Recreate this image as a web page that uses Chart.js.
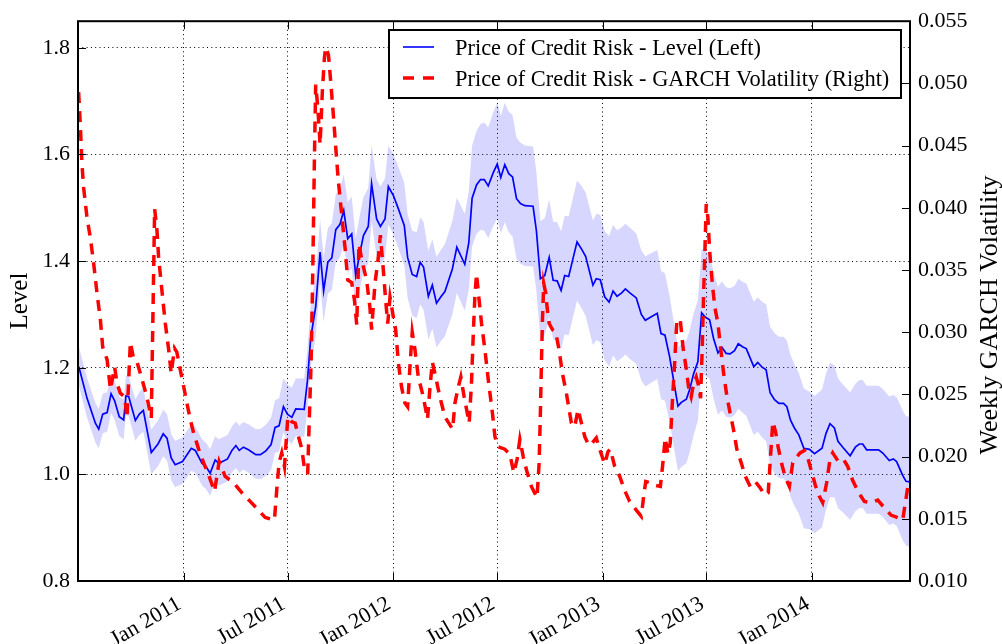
<!DOCTYPE html>
<html>
<head>
<meta charset="utf-8">
<title>Price of Credit Risk</title>
<script src="https://cdn.jsdelivr.net/npm/chart.js@4.4.0/dist/chart.umd.min.js"></script>
<style>
  html, body { margin: 0; padding: 0; background: #fff; }
  #wrap { width: 1002px; height: 644px; }
</style>
</head>
<body>
<div id="wrap"><canvas id="chart" width="1002" height="644"></canvas></div>
<script>
// x positions are fractional years (2011.5 ~ Jul 2011)
const dateTicks = [2011, 2011.496, 2012, 2012.497, 2013, 2013.496, 2014];
const dateLabels = ['Jan 2011', 'Jul 2011', 'Jan 2012', 'Jul 2012', 'Jan 2013', 'Jul 2013', 'Jan 2014'];
const levelTicks = [0.8, 1.0, 1.2, 1.4, 1.6, 1.8];
const volTicks = [0.010, 0.015, 0.020, 0.025, 0.030, 0.035, 0.040, 0.045, 0.050, 0.055];

const levelLabel = 'Price of Credit Risk - Level (Left)';
const volLabel = 'Price of Credit Risk - GARCH Volatility (Right)';

// weekly level of the price of credit risk (left axis)
const levelX = [
  2010.499,2010.538,2010.578,2010.594,2010.613,2010.634,2010.653,2010.670,2010.692,2010.713,
  2010.724,2010.737,2010.769,2010.788,2010.807,2010.845,2010.877,2010.902,2010.920,2010.940,
  2010.959,2010.994,2011.036,2011.055,2011.087,2011.107,2011.126,2011.150,2011.166,2011.190,
  2011.209,2011.230,2011.249,2011.265,2011.285,2011.309,2011.325,2011.344,2011.366,2011.392,
  2011.417,2011.436,2011.455,2011.476,2011.495,2011.516,2011.535,2011.575,2011.591,2011.606,
  2011.630,2011.651,2011.668,2011.688,2011.707,2011.726,2011.746,2011.764,2011.783,2011.802,
  2011.821,2011.842,2011.858,2011.881,2011.897,2011.921,2011.939,2011.961,2011.977,2012.001,
  2012.025,2012.053,2012.069,2012.091,2012.112,2012.129,2012.145,2012.168,2012.187,2012.207,
  2012.228,2012.247,2012.282,2012.304,2012.342,2012.361,2012.377,2012.398,2012.417,2012.435,
  2012.454,2012.478,2012.497,2012.514,2012.533,2012.552,2012.570,2012.589,2012.608,2012.629,
  2012.668,2012.684,2012.703,2012.724,2012.745,2012.764,2012.783,2012.802,2012.819,2012.838,
  2012.878,2012.899,2012.919,2012.954,2012.970,2012.989,2013.010,2013.031,2013.050,2013.069,
  2013.090,2013.109,2013.129,2013.161,2013.185,2013.204,2013.261,2013.279,2013.298,2013.320,
  2013.360,2013.376,2013.400,2013.415,2013.435,2013.455,2013.473,2013.490,2013.511,2013.530,
  2013.551,2013.570,2013.590,2013.609,2013.630,2013.648,2013.670,2013.686,2013.722,2013.741,
  2013.762,2013.781,2013.800,2013.821,2013.842,2013.864,2013.880,2013.897,2013.916,2013.937,
  2013.961,2013.988,2014.012,2014.048,2014.067,2014.086,2014.107,2014.124,2014.147,2014.182,
  2014.207,2014.226,2014.242,2014.261,2014.318,2014.338,2014.369,2014.388,2014.404,2014.433,
  2014.449,2014.468
];
const levelY = [
  1.202,1.143,1.096,1.085,1.113,1.116,1.151,1.138,1.108,1.102,
  1.147,1.146,1.101,1.113,1.120,1.041,1.057,1.076,1.068,1.031,
  1.018,1.024,1.049,1.045,1.021,1.014,1.002,1.027,1.021,1.025,
  1.029,1.045,1.054,1.045,1.051,1.046,1.042,1.037,1.037,1.044,
  1.056,1.088,1.091,1.127,1.113,1.107,1.123,1.122,1.177,1.255,
  1.314,1.417,1.344,1.398,1.406,1.459,1.469,1.495,1.442,1.451,
  1.373,1.417,1.448,1.465,1.545,1.479,1.465,1.479,1.540,1.523,
  1.498,1.467,1.407,1.375,1.371,1.398,1.389,1.334,1.355,1.321,
  1.333,1.343,1.384,1.426,1.394,1.434,1.518,1.543,1.553,1.553,
  1.541,1.566,1.582,1.557,1.581,1.564,1.558,1.517,1.508,1.504,
  1.503,1.457,1.367,1.373,1.407,1.364,1.363,1.345,1.373,1.371,
  1.436,1.423,1.409,1.355,1.367,1.365,1.333,1.323,1.344,1.334,
  1.340,1.348,1.341,1.331,1.300,1.289,1.302,1.264,1.261,1.221,
  1.128,1.135,1.141,1.158,1.189,1.211,1.303,1.295,1.290,1.255,
  1.228,1.238,1.227,1.226,1.232,1.245,1.239,1.236,1.202,1.210,
  1.201,1.196,1.153,1.140,1.133,1.133,1.127,1.102,1.087,1.074,
  1.049,1.047,1.039,1.049,1.077,1.095,1.087,1.062,1.051,1.035,
  1.051,1.057,1.057,1.046,1.046,1.040,1.026,1.029,1.024,0.998,
  0.987,0.986
];
// width of the shaded band above / below the level line
const bandUp = [
  .038,.038,.038,.038,.038,.038,.038,.038,.038,.038,
  .038,.039,.040,.041,.042,.043,.044,.045,.045,.045,
  .045,.045,.045,.045,.045,.045,.045,.045,.045,.045,
  .045,.045,.045,.046,.047,.048,.048,.048,.048,.049,
  .050,.051,.052,.054,.055,.056,.057,.058,.059,.060,
  .061,.062,.063,.064,.065,.066,.067,.068,.069,.070,
  .071,.072,.072,.072,.073,.074,.075,.076,.077,.078,
  .079,.080,.081,.082,.083,.084,.085,.085,.086,.087,
  .088,.089,.091,.093,.095,.097,.099,.101,.104,.107,
  .110,.113,.115,.115,.116,.116,.116,.115,.114,.113,
  .112,.110,.108,.108,.109,.110,.110,.111,.112,.113,
  .115,.118,.120,.121,.122,.122,.123,.124,.124,.124,
  .123,.122,.122,.121,.120,.120,.119,.118,.116,.114,
  .110,.110,.110,.111,.113,.116,.120,.123,.124,.124,
  .124,.124,.124,.123,.122,.122,.122,.122,.122,.122,
  .123,.123,.124,.125,.125,.125,.124,.122,.120,.116,
  .112,.108,.108,.110,.112,.115,.117,.118,.118,.119,
  .119,.120,.120,.120,.120,.120,.120,.120,.121,.122,
  .122,.122
];
const bandDn = [
  .036,.036,.036,.036,.036,.036,.036,.036,.036,.036,
  .036,.037,.038,.039,.040,.041,.042,.042,.042,.042,
  .042,.042,.042,.042,.042,.042,.042,.042,.042,.042,
  .042,.042,.042,.042,.042,.043,.044,.045,.046,.047,
  .048,.048,.048,.048,.049,.050,.051,.052,.054,.055,
  .056,.057,.058,.059,.060,.061,.062,.063,.064,.065,
  .066,.067,.068,.069,.070,.071,.072,.072,.072,.073,
  .074,.075,.076,.077,.078,.079,.080,.081,.082,.083,
  .083,.084,.085,.086,.087,.088,.090,.092,.094,.096,
  .098,.100,.102,.105,.108,.110,.112,.113,.113,.113,
  .113,.113,.113,.112,.112,.111,.110,.110,.110,.110,
  .110,.111,.112,.113,.115,.117,.119,.120,.121,.122,
  .122,.123,.124,.124,.124,.124,.123,.123,.123,.122,
  .122,.121,.120,.118,.115,.110,.110,.110,.111,.113,
  .116,.118,.119,.120,.121,.122,.124,.126,.128,.130,
  .132,.134,.136,.138,.140,.141,.142,.144,.146,.148,
  .150,.150,.150,.148,.144,.138,.130,.125,.122,.120,
  .120,.120,.120,.120,.120,.120,.121,.121,.121,.121,
  .121,.122
];

// weekly GARCH volatility (right axis)
const volX = [
  2010.498,2010.506,2010.514,2010.522,2010.538,2010.554,2010.570,2010.586,2010.602,2010.613,
  2010.634,2010.650,2010.670,2010.681,2010.697,2010.718,2010.729,2010.745,2010.761,2010.777,
  2010.801,2010.824,2010.845,2010.861,2010.872,2010.880,2010.899,2010.912,2010.928,2010.940,
  2010.956,2010.967,2010.983,2011.000,2011.015,2011.031,2011.047,2011.071,2011.095,2011.115,
  2011.147,2011.169,2011.198,2011.238,2011.277,2011.317,2011.357,2011.389,2011.433,2011.444,
  2011.455,2011.468,2011.481,2011.497,2011.516,2011.532,2011.548,2011.564,2011.579,2011.592,
  2011.598,2011.608,2011.614,2011.619,2011.624,2011.630,2011.640,2011.651,2011.662,2011.672,
  2011.678,2011.691,2011.703,2011.715,2011.726,2011.738,2011.754,2011.770,2011.783,2011.802,
  2011.815,2011.826,2011.837,2011.850,2011.873,2011.889,2011.897,2011.913,2011.929,2011.939,
  2011.953,2011.964,2011.974,2011.985,2012.001,2012.012,2012.025,2012.040,2012.056,2012.069,
  2012.080,2012.091,2012.104,2012.120,2012.144,2012.164,2012.176,2012.187,2012.203,2012.223,
  2012.247,2012.284,2012.295,2012.311,2012.323,2012.339,2012.363,2012.374,2012.382,2012.390,
  2012.398,2012.409,2012.422,2012.438,2012.454,2012.474,2012.486,2012.501,2012.533,2012.557,
  2012.576,2012.592,2012.605,2012.621,2012.637,2012.660,2012.687,2012.697,2012.703,2012.708,
  2012.713,2012.719,2012.729,2012.735,2012.745,2012.761,2012.776,2012.792,2012.808,2012.827,
  2012.851,2012.867,2012.883,2012.899,2012.915,2012.934,2012.951,2012.970,2012.986,2013.010,
  2013.026,2013.037,2013.058,2013.082,2013.105,2013.129,2013.161,2013.185,2013.196,2013.206,
  2013.225,2013.249,2013.276,2013.288,2013.299,2013.312,2013.323,2013.333,2013.344,2013.355,
  2013.371,2013.384,2013.400,2013.412,2013.423,2013.435,2013.447,2013.457,2013.468,2013.476,
  2013.482,2013.489,2013.495,2013.503,2013.511,2013.524,2013.536,2013.551,2013.563,2013.578,
  2013.594,2013.609,2013.625,2013.641,2013.662,2013.682,2013.705,2013.729,2013.752,2013.775,
  2013.791,2013.805,2013.813,2013.826,2013.838,2013.854,2013.873,2013.892,2013.908,2013.924,
  2013.943,2013.964,2013.980,2013.996,2014.016,2014.035,2014.051,2014.070,2014.086,2014.099,
  2014.118,2014.134,2014.150,2014.171,2014.194,2014.223,2014.250,2014.282,2014.314,2014.345,
  2014.377,2014.409,2014.433,2014.446,2014.457,2014.468
];
const volY = [
  .0493,.0467,.0435,.0416,.0392,.0376,.0355,.0331,.0310,.0288,
  .0278,.0254,.0272,.0259,.0251,.0248,.0231,.0292,.0278,.0276,
  .0262,.0248,.0231,.0399,.0382,.0360,.0328,.0307,.0286,.0267,
  .0287,.0284,.0270,.0256,.0243,.0230,.0219,.0206,.0195,.0187,
  .0172,.0196,.0184,.0179,.0171,.0164,.0157,.0151,.0149,.0173,
  .0195,.0203,.0192,.0232,.0228,.0227,.0216,.0206,.0187,.0187,
  .0222,.0275,.0328,.0382,.0440,.0499,.0481,.0451,.0494,.0521,
  .0529,.0523,.0499,.0473,.0448,.0422,.0395,.0368,.0342,.0340,
  .0326,.0306,.0371,.0358,.0342,.0320,.0302,.0339,.0360,.0378,
  .0350,.0326,.0307,.0328,.0312,.0302,.0275,.0256,.0243,.0240,
  .0272,.0300,.0286,.0264,.0248,.0230,.0256,.0276,.0264,.0248,
  .0232,.0222,.0243,.0256,.0264,.0248,.0227,.0259,.0296,.0328,
  .0347,.0328,.0307,.0286,.0262,.0235,.0216,.0208,.0206,.0202,
  .0187,.0198,.0214,.0200,.0189,.0176,.0167,.0195,.0235,.0275,
  .0310,.0339,.0331,.0320,.0307,.0302,.0300,.0286,.0267,.0251,
  .0227,.0224,.0238,.0227,.0216,.0209,.0211,.0215,.0206,.0194,
  .0204,.0206,.0192,.0184,.0173,.0164,.0157,.0152,.0168,.0180,
  .0179,.0177,.0176,.0195,.0215,.0202,.0211,.0243,.0275,.0310,
  .0310,.0288,.0270,.0254,.0248,.0259,.0264,.0258,.0247,.0288,
  .0328,.0368,.0403,.0392,.0366,.0339,.0320,.0307,.0288,.0267,
  .0248,.0235,.0222,.0206,.0195,.0184,.0176,.0180,.0175,.0169,
  .0171,.0208,.0228,.0220,.0208,.0195,.0183,.0176,.0195,.0199,
  .0203,.0205,.0199,.0189,.0177,.0168,.0163,.0179,.0198,.0203,
  .0198,.0200,.0198,.0192,.0181,.0171,.0164,.0163,.0165,.0159,
  .0153,.0151,.0149,.0163,.0175,.0174
];

const serif = "'Liberation Serif', 'Times New Roman', serif";
Chart.defaults.font.family = serif;
Chart.defaults.font.size = 22;
Chart.defaults.color = '#000';

const pts = (xs, ys) => xs.map((x, i) => ({ x: x, y: ys[i] }));

// matplotlib look: black frame, inward ticks, boxed legend, right label read bottom-up
const decor = {
  id: 'decor',
  afterDatasetsDraw(chart) {
    const { ctx, chartArea: a, scales } = chart;
    const tick = 8;
    ctx.save();
    ctx.strokeStyle = '#000';
    ctx.lineWidth = 1;
    ctx.beginPath();
    scales.x.ticks.forEach(t => {
      const px = Math.round(scales.x.getPixelForValue(t.value)) + 0.5;
      ctx.moveTo(px, a.bottom); ctx.lineTo(px, a.bottom - tick);
      ctx.moveTo(px, a.top); ctx.lineTo(px, a.top + tick);
    });
    scales.y.ticks.forEach(t => {
      const py = Math.round(scales.y.getPixelForValue(t.value)) + 0.5;
      ctx.moveTo(a.left, py); ctx.lineTo(a.left + tick, py);
    });
    scales.y1.ticks.forEach(t => {
      const py = Math.round(scales.y1.getPixelForValue(t.value)) + 0.5;
      ctx.moveTo(a.right, py); ctx.lineTo(a.right - tick, py);
    });
    ctx.stroke();
    ctx.lineWidth = 2;
    ctx.strokeRect(a.left, a.top, a.right - a.left, a.bottom - a.top);
    ctx.restore();
  },
  afterDraw(chart) {
    const ctx = chart.ctx;
    ctx.save();
    // legend box
    ctx.fillStyle = '#fff';
    ctx.fillRect(389, 30, 512, 68);
    ctx.strokeStyle = '#000';
    ctx.lineWidth = 2;
    ctx.strokeRect(389, 30, 512, 68);
    ctx.lineCap = 'butt';
    ctx.strokeStyle = '#0000ff';
    ctx.lineWidth = 1.6;
    ctx.beginPath(); ctx.moveTo(403, 47); ctx.lineTo(434, 47); ctx.stroke();
    ctx.strokeStyle = '#ff0000';
    ctx.lineWidth = 3.5;
    ctx.setLineDash([11, 9]);
    ctx.beginPath(); ctx.moveTo(403, 78); ctx.lineTo(436, 78); ctx.stroke();
    ctx.setLineDash([]);
    ctx.fillStyle = '#000';
    ctx.font = '22.4px ' + serif;
    ctx.textAlign = 'left';
    ctx.textBaseline = 'alphabetic';
    ctx.fillText(levelLabel, 455, 55);
    ctx.fillText(volLabel, 455, 86);
    // right axis title
    ctx.font = '26px ' + serif;
    ctx.translate(990, 315);
    ctx.rotate(-Math.PI / 2);
    ctx.textAlign = 'center';
    ctx.textBaseline = 'middle';
    ctx.fillText('Weekly GARCH Volatility', 0, 0);
    ctx.restore();
  }
};

const dotted = { color: '#000', lineWidth: 1, drawTicks: false };

new Chart(document.getElementById('chart'), {
  type: 'line',
  data: {
    datasets: [
      {
        label: volLabel,
        data: pts(volX, volY),
        yAxisID: 'y1',
        borderColor: '#ff0000',
        borderWidth: 3.5,
        borderDash: [11, 8],
        borderCapStyle: 'butt',
        pointRadius: 0,
        fill: false
      },
      {
        label: levelLabel,
        data: pts(levelX, levelY),
        yAxisID: 'y',
        borderColor: '#0000ff',
        borderWidth: 1.7,
        pointRadius: 0,
        fill: false
      },
      {
        label: 'band upper',
        data: levelX.map((x, i) => ({ x: x, y: levelY[i] + bandUp[i] })),
        yAxisID: 'y',
        borderColor: 'rgba(0,0,0,0)',
        borderWidth: 0,
        pointRadius: 0,
        backgroundColor: 'rgba(0,0,250,0.16)',
        fill: '+1'
      },
      {
        label: 'band lower',
        data: levelX.map((x, i) => ({ x: x, y: levelY[i] - bandDn[i] })),
        yAxisID: 'y',
        borderColor: 'rgba(0,0,0,0)',
        borderWidth: 0,
        pointRadius: 0,
        fill: false
      }
    ]
  },
  options: {
    responsive: false,
    animation: false,
    devicePixelRatio: 1,
    layout: { padding: { top: 20, left: 0, right: 0, bottom: 0 } },
    elements: { line: { tension: 0 } },
    plugins: { legend: { display: false }, tooltip: { enabled: false } },
    scales: {
      x: {
        type: 'linear',
        min: 2010.495,
        max: 2014.468,
        afterBuildTicks: s => { s.ticks = dateTicks.map(v => ({ value: v })); },
        afterFit: s => { s.height = 63; },
        ticks: {
          callback: (v, i) => dateLabels[i],
          minRotation: 30,
          maxRotation: 30,
          autoSkip: false,
          padding: 10,
          labelOffset: -4
        },
        grid: dotted,
        border: { display: false, dash: [1, 3.3] }
      },
      y: {
        position: 'left',
        min: 0.8,
        max: 1.85,
        afterBuildTicks: s => { s.ticks = levelTicks.map(v => ({ value: v })); },
        afterFit: s => { s.width = 78; },
        ticks: { callback: v => v.toFixed(1), padding: 8 },
        grid: dotted,
        border: { display: false, dash: [1, 3.3] },
        title: { display: true, text: 'Level', font: { size: 25 }, padding: { top: 5, bottom: 0 } }
      },
      y1: {
        position: 'right',
        min: 0.010,
        max: 0.055,
        afterBuildTicks: s => { s.ticks = volTicks.map(v => ({ value: v })); },
        afterFit: s => { s.width = 92; },
        ticks: { callback: v => v.toFixed(3), padding: 8 },
        grid: { drawOnChartArea: false, drawTicks: false },
        border: { display: false }
      }
    }
  },
  plugins: [decor]
});
</script>
</body>
</html>
